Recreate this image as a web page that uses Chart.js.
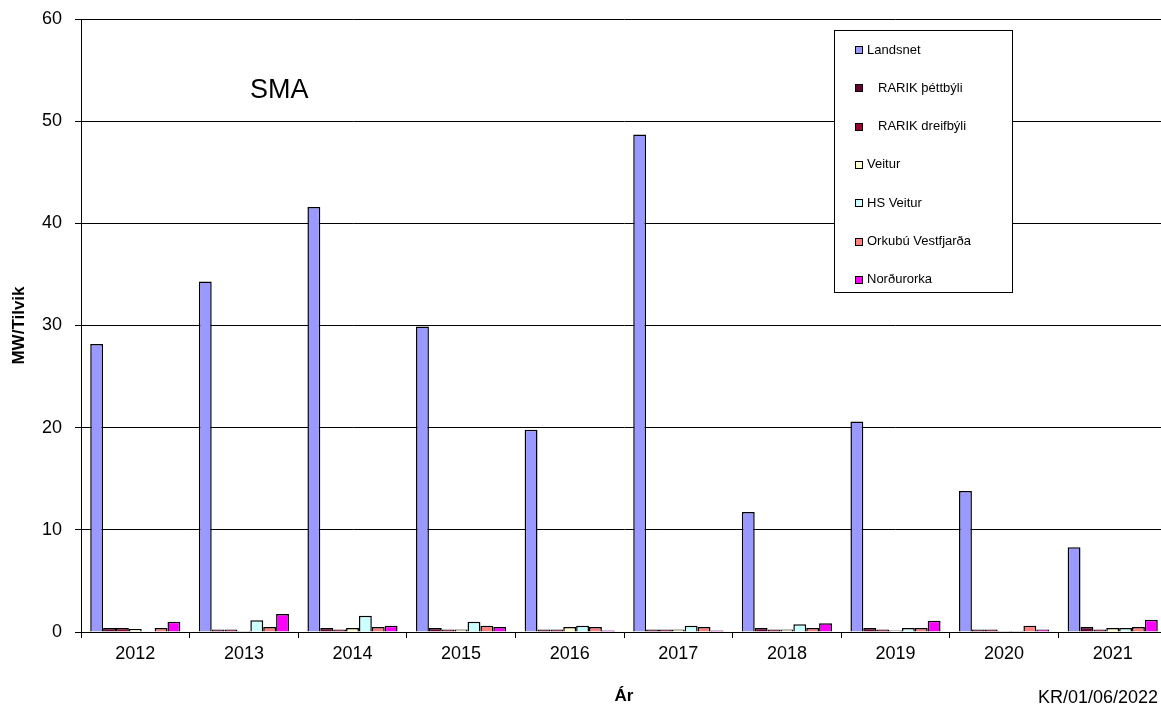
<!DOCTYPE html>
<html>
<head>
<meta charset="utf-8">
<script src="https://cdn.jsdelivr.net/npm/chart.js@4/dist/chart.umd.min.js"></script>
<style>
    body { margin: 0; background: #fff; overflow: hidden; }
    #wrap { width: 1175px; height: 709px; }
</style>
</head>
<body>
<div id="wrap"><canvas id="smaChart" width="1175" height="709"></canvas></div>
<script>
// Gögn
const years = ['2012', '2013', '2014', '2015', '2016', '2017', '2018', '2019', '2020', '2021'];
const landsnet = [28.2, 34.3, 41.6, 29.9, 19.8, 48.7, 11.75, 20.6, 13.8, 8.3];
const rarikThett = [0.4, 0.25, 0.4, 0.4, 0.25, 0.25, 0.4, 0.4, 0.25, 0.5];
const rarikDreif = [0.4, 0.25, 0.25, 0.25, 0.25, 0.25, 0.25, 0.25, 0.25, 0.25];
const veitur = [0.3, 0.1, 0.4, 0.25, 0.5, 0.25, 0.25, 0.15, 0.1, 0.4];
const hsVeitur = [0.05, 1.15, 1.6, 1.0, 0.6, 0.6, 0.75, 0.4, 0.1, 0.4];
const orkubu = [0.4, 0.5, 0.5, 0.6, 0.5, 0.5, 0.4, 0.4, 0.6, 0.5];
const nordurorka = [1.0, 1.75, 0.6, 0.5, 0.15, 0.15, 0.85, 1.1, 0.25, 1.2];

const FONT = "'Liberation Sans', Arial, sans-serif";

function series(label, data, color) {
    return {
        label: label,
        data: data,
        backgroundColor: color,
        borderColor: '#000',
        borderWidth: 1.5,
        categoryPercentage: 0.83,
        barPercentage: 1.0
    };
}

// legend box, SMA text and date stamp
const extras = {
    id: 'extras',
    afterDraw(chart) {
        const ctx = chart.ctx;
        ctx.save();
        ctx.fillStyle = '#fff';
        ctx.fillRect(834, 30, 178, 262);
        ctx.strokeStyle = '#000';
        ctx.lineWidth = 1;
        ctx.strokeRect(834.5, 30.5, 178, 262);

        ctx.font = '13px ' + FONT;
        ctx.textBaseline = 'middle';
        chart.data.datasets.forEach(function(ds, i) {
            const y = 50 + i * 38.3;
            ctx.fillStyle = ds.backgroundColor;
            ctx.fillRect(855, Math.round(y) - 4, 8, 8);
            ctx.strokeStyle = '#000';
            ctx.strokeRect(855.5, Math.round(y) - 3.5, 7, 7);
            ctx.fillStyle = '#000';
            const indent = ds.label.indexOf('RARIK') === 0 ? 878 : 867;
            ctx.fillText(ds.label, indent, y);
        });

        ctx.font = '27px ' + FONT;
        ctx.fillText('SMA', 250, 91);

        ctx.font = '18px ' + FONT;
        ctx.textAlign = 'right';
        ctx.fillText('KR/01/06/2022', 1158, 698);
        ctx.restore();
    }
};

const ctx = document.getElementById('smaChart').getContext('2d');
const smaChart = new Chart(ctx, {
    type: 'bar',
    data: {
        labels: years,
        datasets: [
            series('Landsnet', landsnet, '#9999FF'),
            series('RARIK þéttbýli', rarikThett, '#660033'),
            series('RARIK dreifbýli', rarikDreif, '#990033'),
            series('Veitur', veitur, '#FFFFCC'),
            series('HS Veitur', hsVeitur, '#CCFFFF'),
            series('Orkubú Vestfjarða', orkubu, '#FF8080'),
            series('Norðurorka', nordurorka, '#FF00FF')
        ]
    },
    options: {
        responsive: false,
        animation: false,
        layout: {
            padding: { left: 0, right: 8, top: 19, bottom: 0 }
        },
        plugins: {
            legend: { display: false },
            tooltip: { enabled: false }
        },
        scales: {
            x: {
                afterFit: function(scale) { scale.height = 77; },
                grid: {
                    offset: true,
                    drawOnChartArea: false,
                    color: '#000',
                    tickLength: 6
                },
                border: { color: '#000', width: 1 },
                ticks: {
                    color: '#000',
                    padding: 5,
                    maxRotation: 0,
                    font: { family: FONT, size: 18 }
                },
                title: {
                    display: true,
                    text: 'Ár',
                    color: '#000',
                    padding: { top: 0, bottom: 2 },
                    font: { family: FONT, size: 17, weight: 'bold' }
                }
            },
            y: {
                min: 0,
                max: 60,
                afterFit: function(scale) {
                    scale.width = 81;
                    scale.paddingTop = 0;
                    scale.paddingBottom = 0;
                },
                grid: {
                    color: '#000',
                    tickLength: 6
                },
                border: { color: '#000', width: 1 },
                ticks: {
                    stepSize: 10,
                    color: '#000',
                    padding: 13,
                    font: { family: FONT, size: 18 }
                },
                title: {
                    display: true,
                    text: 'MW/Tilvik',
                    color: '#000',
                    padding: { top: 9, bottom: 0 },
                    font: { family: FONT, size: 17, weight: 'bold' }
                }
            }
        }
    },
    plugins: [extras]
});
</script>
</body>
</html>
